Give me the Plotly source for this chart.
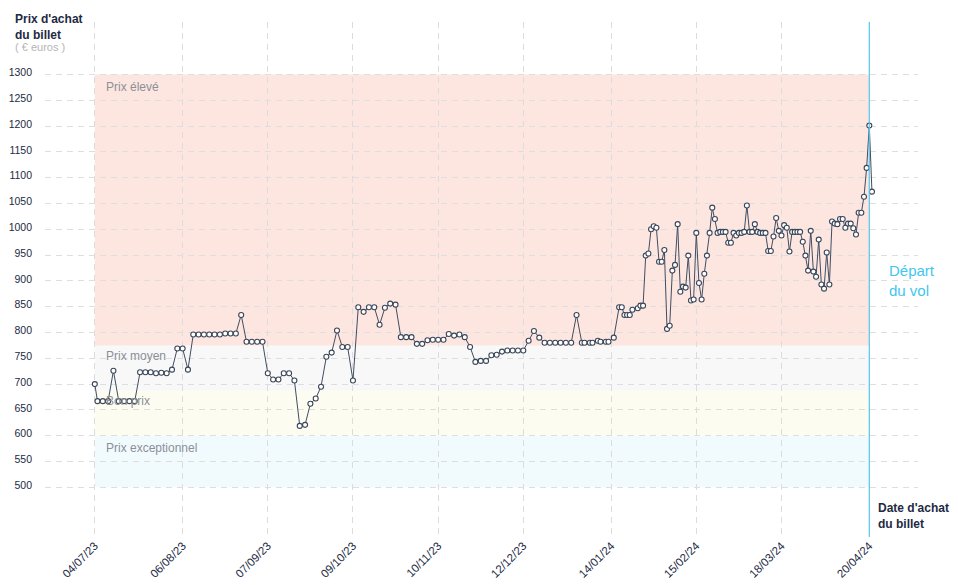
import pandas as pd
import plotly.graph_objects as go

# ---------------- data ----------------
start_date = "2023-07-04"

# day offset (from start_date) of each purchase-date observation
purchase_day = [
    0, 1, 3, 5, 7, 9, 11, 13, 15, 17,
    19, 21, 23, 25, 27, 29, 31, 33, 35, 37,
    39, 41, 43, 45, 47, 49, 51, 53, 55, 57,
    59, 61, 63, 65, 67, 69, 71, 73, 75, 77,
    79, 81, 83, 85, 87, 89, 91, 93, 95, 97,
    99, 101, 103, 105, 107, 109, 111, 113, 115, 117,
    119, 121, 123, 125, 127, 129, 131, 133, 135, 137,
    139, 141, 143, 145, 147, 149, 151, 153, 155, 157,
    159, 161, 163, 165, 167, 169, 171,
    173, 175, 177, 179, 181,
    183, 184, 186, 187, 189, 190, 192, 193, 195,
    197, 198, 199, 200, 201, 202, 204, 205, 206,
    207, 208, 209, 210, 211, 212, 213, 214, 215, 216,
    217, 218, 219, 220, 221, 222, 223, 224, 225, 226,
    227, 228, 229, 230, 231, 232, 233, 234, 235, 236,
    237, 238, 239, 240, 241, 242, 243, 244, 245, 246,
    247, 248, 249, 250, 251, 252, 253, 254, 255, 256,
    257, 258, 259, 260, 261, 262, 263, 264, 265, 266,
    267, 268, 269, 270, 271, 272, 273, 274, 275, 276,
    277, 278, 279, 280, 281, 282, 283, 284, 285, 286,
    287, 288, 289, 290, 291, 292,
]

price = [
    700, 667, 667, 667, 726, 667, 667, 667, 667, 723,
    723, 723, 721, 722, 721, 728, 769, 769, 728, 796,
    796, 796, 796, 796, 796, 798, 798, 798, 834, 782,
    782, 782, 782, 721, 709, 709, 721, 721, 707, 619,
    621, 662, 672, 695, 753, 761, 804, 772, 772, 707,
    849, 840, 849, 849, 815, 848, 856, 854, 791, 791,
    791, 778, 778, 785, 786, 786, 786, 797, 794, 796,
    791, 772, 743, 745, 745, 756, 757, 763, 765, 765,
    765, 765, 784, 803, 790, 780, 780,
    780, 780, 780, 780, 834,
    780, 780, 780, 780, 784, 782, 782, 782, 790,
    849, 849, 834, 834, 834, 844, 847, 852, 852,
    949, 953, 1000, 1006, 1003, 937, 937, 960, 807, 813,
    920, 931, 1010, 879, 889, 887, 949, 862, 864, 993,
    896, 864, 914, 949, 993, 1042, 1020, 993, 995, 995,
    995, 974, 974, 993, 988, 993, 993, 995, 1046, 995,
    995, 1010, 995, 993, 993, 993, 958, 958, 986, 1022,
    997, 988, 1008, 1003, 957, 995, 995, 995, 995, 976,
    949, 920, 997, 918, 908, 980, 893, 885, 955, 893,
    1015, 1011, 1010, 1020, 1020, 1003, 1011, 1011, 1002, 990,
    1032, 1032, 1063, 1119, 1201, 1073,
]

tick_dates = ["2023-07-04", "2023-08-06", "2023-09-07", "2023-10-09", "2023-11-10",
              "2023-12-12", "2024-01-14", "2024-02-15", "2024-03-18", "2024-04-20"]
tick_labels = ["04/07/23", "06/08/23", "07/09/23", "09/10/23", "10/11/23",
               "12/12/23", "14/01/24", "15/02/24", "18/03/24", "20/04/24"]

y_ticks = [500, 550, 600, 650, 700, 750, 800, 850, 900, 950,
           1000, 1050, 1100, 1150, 1200, 1250, 1300]

band_names = ["Prix exceptionnel", "Bon prix", "Prix moyen", "Prix élevé"]
band_low = [500, 600, 687, 775]
band_high = [600, 687, 775, 1300]
band_colors = ["#f1fbfd", "#fcfcf1", "#f8f8f8", "#fde6e0"]

departure_date = "2024-04-20"

# ---------------- figure ----------------
dates = pd.Timestamp(start_date) + pd.to_timedelta(purchase_day, unit="D")

OFF = 8                      # page body margin of the html output
W, H = 958 - OFF, 585 - OFF
# plot area in screen pixels
P_LEFT, P_RIGHT, P_TOP, P_BOTTOM = 45, 918, 22, 537
ML, MR = P_LEFT - OFF, W + OFF - P_RIGHT
MT, MB = P_TOP - OFF, H + OFF - P_BOTTOM
PW, PH = P_RIGHT - P_LEFT, P_BOTTOM - P_TOP


def px(x):
    return (x - P_LEFT) / PW


def py(y):
    return (P_BOTTOM - y) / PH


FONT = "Liberation Sans, Arial, Helvetica, sans-serif"
NAVY = "#1d2a43"

fig = go.Figure()
fig.add_trace(go.Scatter(
    x=dates, y=price, mode="lines+markers",
    line=dict(color="#414d62", width=1),
    marker=dict(size=5, color="white", line=dict(color="#3a4659", width=1.1)),
    hoverinfo="x+y", showlegend=False,
))

shapes = []
for lo, hi, col in zip(band_low, band_high, band_colors):
    shapes.append(dict(type="rect", xref="x", yref="y",
                       x0=tick_dates[0], x1=departure_date, y0=lo, y1=hi,
                       fillcolor=col, line=dict(width=0), layer="below"))
shapes.append(dict(type="line", xref="x", yref="paper",
                   x0=departure_date, x1=departure_date, y0=0, y1=1,
                   line=dict(color="#55c8ee", width=1.2), layer="above"))

annotations = []
band_label_y = {"Prix élevé": 87, "Prix moyen": 356, "Bon prix": 401, "Prix exceptionnel": 448}
for name in band_names:
    annotations.append(dict(xref="paper", yref="paper", x=px(104), y=py(band_label_y[name]),
                            xanchor="left", yanchor="middle", showarrow=False,
                            text=name, font=dict(family=FONT, size=12, color="#8b8f98")))

annotations += [
    dict(xref="paper", yref="paper", x=px(13), y=py(10), xanchor="left", yanchor="top",
         showarrow=False, align="left",
         text="<b>Prix d'achat</b><br><b>du billet</b>",
         font=dict(family=FONT, size=12, color=NAVY)),
    dict(xref="paper", yref="paper", x=px(13), y=py(47), xanchor="left", yanchor="middle",
         showarrow=False, text="( € euros )",
         font=dict(family=FONT, size=11, color="#b5b5b5")),
    dict(xref="paper", yref="paper", x=px(887), y=py(280), xanchor="left", yanchor="middle",
         showarrow=False, align="left", text="Départ<br>du vol",
         font=dict(family=FONT, size=15, color="#3fc6ef")),
    dict(xref="paper", yref="paper", x=px(876), y=py(499), xanchor="left", yanchor="top",
         showarrow=False, align="left",
         text="<b>Date d'achat</b><br><b>du billet</b>",
         font=dict(family=FONT, size=12, color=NAVY)),
]

x0 = pd.Timestamp(tick_dates[0])
x1 = pd.Timestamp(departure_date)
ppd = (869.3 - 94.8) / (x1 - x0).days
x_range = [x0 - pd.Timedelta(days=(94.8 - P_LEFT) / ppd),
           x1 + pd.Timedelta(days=(P_RIGHT - 869.3) / ppd)]
upp = 800 / (487.3 - 74.5)
y_range = [500 - (P_BOTTOM - 487.3) * upp, 1300 + (74.5 - P_TOP) * upp]

fig.update_layout(
    width=W, height=H,
    margin=dict(l=ML, r=MR, t=MT, b=MB, autoexpand=False),
    paper_bgcolor="white", plot_bgcolor="white",
    font=dict(family=FONT, color=NAVY),
    shapes=shapes, annotations=annotations,
    showlegend=False,
    xaxis=dict(
        type="date", range=x_range, automargin=False,
        tickmode="array", tickvals=tick_dates, ticktext=tick_labels,
        tickangle=-45, tickfont=dict(family=FONT, size=11.5, color=NAVY),
        showgrid=True, gridcolor="#dcdcdc", griddash="6px,5px", gridwidth=1,
        zeroline=False, showline=False, ticks="", ticklabelstandoff=-1,
    ),
    yaxis=dict(
        range=y_range, automargin=False,
        tickmode="array", tickvals=y_ticks, ticktext=[str(v) for v in y_ticks],
        tickfont=dict(family=FONT, size=10.5, color=NAVY),
        showgrid=True, gridcolor="#dedede", griddash="6px,5px", gridwidth=1,
        zeroline=False, showline=False, ticks="",
        ticklabelstandoff=12, ticklabelshift=-2,
    ),
)

fig.write_html("out.html")
